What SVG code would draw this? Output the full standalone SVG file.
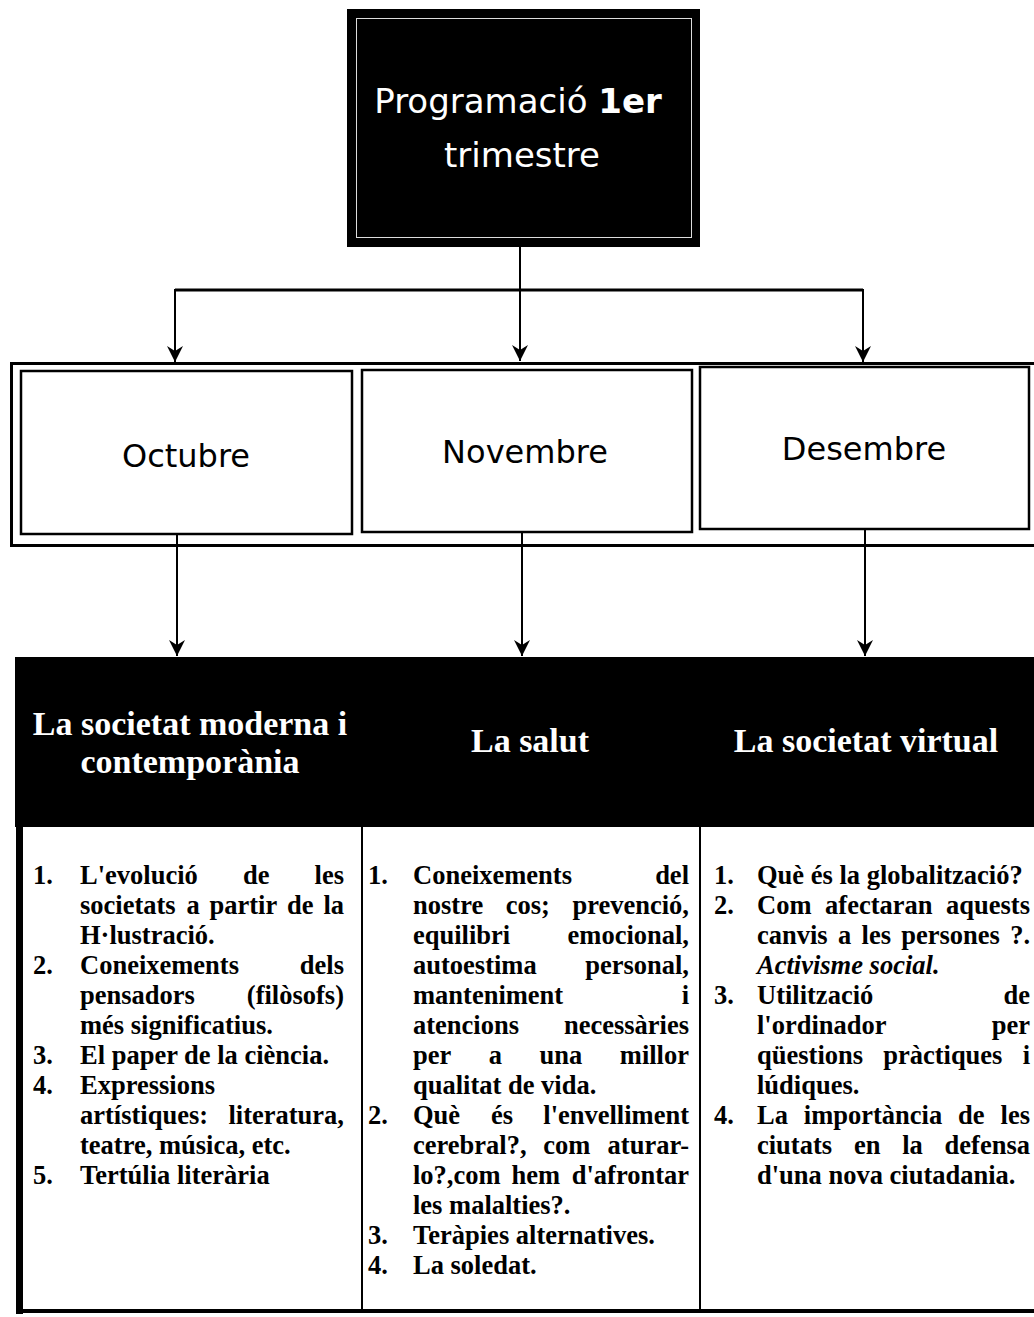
<svg xmlns="http://www.w3.org/2000/svg" width="1034" height="1317" viewBox="0 0 1034 1317">
<style>
.b{font-family:"Liberation Serif","Times New Roman",serif;font-weight:bold;font-size:26.5px;fill:#000}
.e{text-anchor:end}
.i{font-style:italic}
.h{font-family:"Liberation Serif","Times New Roman",serif;font-weight:bold;font-size:34px;fill:#fff;text-anchor:middle}
.m{font-family:"DejaVu Sans",sans-serif;font-size:32px;fill:#000;text-anchor:middle}
.t{font-family:"DejaVu Sans",sans-serif;font-size:34px;fill:#fff;text-anchor:middle}
.box{fill:#fff;stroke:#000;stroke-width:2.5}
.ln{fill:none;stroke:#000;stroke-width:2}
</style>
<defs>
<marker id="arr" viewBox="0 0 16 16" refX="16" refY="8" markerWidth="16" markerHeight="16" markerUnits="userSpaceOnUse" orient="auto">
<path d="M0,0 L16,8 L0,16 L5,8 Z" fill="#000"/>
</marker>
</defs>
<rect width="1034" height="1317" fill="#fff"/>

<g id="title">
<rect x="347" y="9" width="353" height="238" fill="#000"/>
<rect x="356.5" y="18.5" width="335" height="219" fill="none" stroke="#ddd" stroke-width="1"/>
<text class="t" x="518" y="113">Programació <tspan font-weight="bold">1er</tspan></text>
<text class="t" x="522" y="167">trimestre</text>
</g>

<g id="months">
<rect x="11.5" y="363.5" width="1030" height="182" fill="none" stroke="#000" stroke-width="3"/>
<g id="octubre"><rect class="box" x="21" y="371" width="331" height="163"/><text class="m" x="186" y="467">Octubre</text></g>
<g id="novembre"><rect class="box" x="362" y="370" width="330" height="162"/><text class="m" x="525" y="463">Novembre</text></g>
<g id="desembre"><rect class="box" x="700" y="367" width="329" height="162"/><text class="m" x="864" y="460">Desembre</text></g>
</g>

<g id="topics">
<rect x="15" y="657" width="1019" height="170" fill="#000"/>
<g id="topic-societat"><text class="h" x="190" y="735">La societat moderna i</text><text class="h" x="190" y="773">contemporània</text></g>
<g id="topic-salut"><text class="h" x="530" y="752">La salut</text></g>
<g id="topic-virtual"><text class="h" x="866" y="752">La societat virtual</text></g>
</g>

<g id="contents">
<rect x="16" y="827" width="7" height="487" fill="#000"/>
<line x1="16" y1="1311" x2="1034" y2="1311" stroke="#000" stroke-width="4"/>
<line x1="362" y1="827" x2="362" y2="1311" class="ln"/>
<line x1="700" y1="827" x2="700" y2="1311" class="ln"/>

<g id="content-octubre" class="b">
<text x="33" y="884">1.</text><text x="80" y="884">L'evolució</text><text x="242.9" y="884">de</text><text class="e" x="344" y="884">les</text>
<text x="80" y="914">societats</text><text x="186.4" y="914">a</text><text x="209.5" y="914">partir</text><text x="287.1" y="914">de</text><text class="e" x="344" y="914">la</text>
<text x="80" y="944">H·lustració.</text>
<text x="33" y="974">2.</text><text x="80" y="974">Coneixements</text><text class="e" x="344" y="974">dels</text>
<text x="80" y="1004">pensadors</text><text class="e" x="344" y="1004">(filòsofs)</text>
<text x="80" y="1034">més significatius.</text>
<text x="33" y="1064">3.</text><text x="80" y="1064">El paper de la ciència.</text>
<text x="33" y="1094">4.</text><text x="80" y="1094">Expressions</text>
<text x="80" y="1124">artístiques:</text><text class="e" x="344" y="1124">literatura,</text>
<text x="80" y="1154">teatre, música, etc.</text>
<text x="33" y="1184">5.</text><text x="80" y="1184">Tertúlia literària</text>
</g>

<g id="content-novembre" class="b">
<text x="368" y="884">1.</text><text x="413" y="884">Coneixements</text><text class="e" x="689" y="884">del</text>
<text x="413" y="914">nostre</text><text x="505.8" y="914">cos;</text><text class="e" x="689" y="914">prevenció,</text>
<text x="413" y="944">equilibri</text><text class="e" x="689" y="944">emocional,</text>
<text x="413" y="974">autoestima</text><text class="e" x="689" y="974">personal,</text>
<text x="413" y="1004">manteniment</text><text class="e" x="689" y="1004">i</text>
<text x="413" y="1034">atencions</text><text class="e" x="689" y="1034">necessàries</text>
<text x="413" y="1064">per</text><text x="488.8" y="1064">a</text><text x="539.6" y="1064">una</text><text class="e" x="689" y="1064">millor</text>
<text x="413" y="1094">qualitat de vida.</text>
<text x="368" y="1124">2.</text><text x="413" y="1124">Què</text><text x="490.9" y="1124">és</text><text class="e" x="689" y="1124">l'envelliment</text>
<text x="413" y="1154">cerebral?,</text><text x="543.3" y="1154">com</text><text class="e" x="689" y="1154">aturar-</text>
<text x="413" y="1184">lo?,com</text><text x="511.6" y="1184">hem</text><text class="e" x="689" y="1184">d'afrontar</text>
<text x="413" y="1214">les malalties?.</text>
<text x="368" y="1244">3.</text><text x="413" y="1244">Teràpies alternatives.</text>
<text x="368" y="1274">4.</text><text x="413" y="1274">La soledat.</text>
</g>

<g id="content-desembre" class="b">
<text x="714" y="884">1.</text><text x="757" y="884">Què és la globalització?</text>
<text x="714" y="914">2.</text><text x="757" y="914">Com</text><text x="825.1" y="914">afectaran</text><text class="e" x="1030" y="914">aquests</text>
<text x="757" y="944">canvis</text><text x="838" y="944">a</text><text x="861.6" y="944">les</text><text x="901.3" y="944">persones</text><text class="e" x="1030" y="944">?.</text>
<text class="i" x="757" y="974">Activisme social.</text>
<text x="714" y="1004">3.</text><text x="757" y="1004">Utilització</text><text class="e" x="1030" y="1004">de</text>
<text x="757" y="1034">l'ordinador</text><text class="e" x="1030" y="1034">per</text>
<text x="757" y="1064">qüestions</text><text x="883.2" y="1064">pràctiques</text><text class="e" x="1030" y="1064">i</text>
<text x="757" y="1094">lúdiques.</text>
<text x="714" y="1124">4.</text><text x="757" y="1124">La</text><text x="803.8" y="1124">importància</text><text x="958.1" y="1124">de</text><text class="e" x="1030" y="1124">les</text>
<text x="757" y="1154">ciutats</text><text x="853.9" y="1154">en</text><text x="902.2" y="1154">la</text><text class="e" x="1030" y="1154">defensa</text>
<text x="757" y="1184">d'una nova ciutadania.</text>
</g>
</g>

<g id="connectors">
<line x1="520" y1="247" x2="520" y2="361" class="ln" marker-end="url(#arr)"/>
<line x1="175" y1="290" x2="863" y2="290" stroke="#000" stroke-width="3"/>
<line x1="175" y1="289" x2="175" y2="362" class="ln" marker-end="url(#arr)"/>
<line x1="863" y1="289" x2="863" y2="362" class="ln" marker-end="url(#arr)"/>
<line x1="177" y1="534" x2="177" y2="656" class="ln" marker-end="url(#arr)"/>
<line x1="522" y1="532" x2="522" y2="656" class="ln" marker-end="url(#arr)"/>
<line x1="865" y1="529" x2="865" y2="656" class="ln" marker-end="url(#arr)"/>
</g>
</svg>
